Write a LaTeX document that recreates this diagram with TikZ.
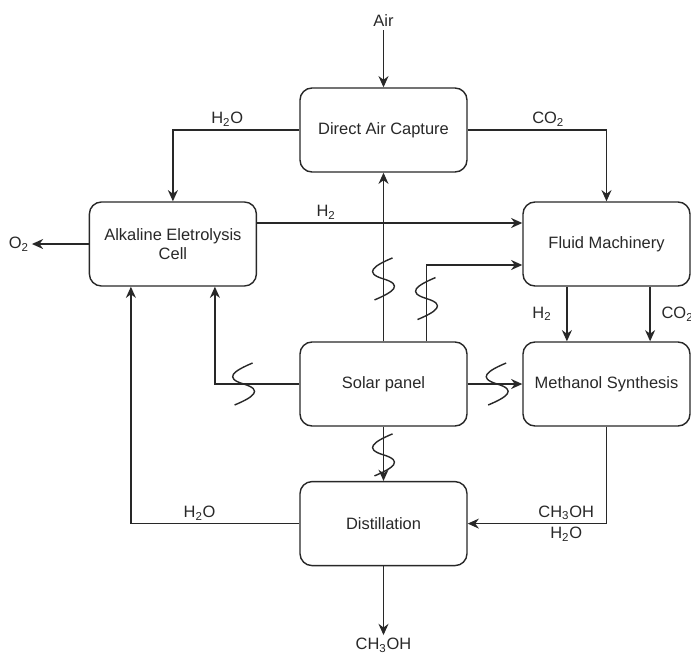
\documentclass[tikz,border=0pt]{standalone}
\usepackage{fontspec}
\setmainfont{Liberation Sans}
\usepackage{tikz}
\usetikzlibrary{arrows.meta, calc, positioning}
\definecolor{darkline}{RGB}{40,40,40}
\tikzstyle{block} = [rectangle, draw=darkline, line width=1pt, rounded corners=3mm,
    fill=white, text=darkline, minimum width=4.175cm, minimum height=2.1cm, align=center]
\tikzstyle{line} = [draw=darkline, line width=1pt, -{Stealth[length=2.8mm, width=2.5mm]}]
\tikzstyle{chem} = [text=darkline, inner sep=2pt]

\begin{document}
\begin{tikzpicture}[node distance = 1.5cm, font=\fontsize{11.7}{13.7}\selectfont,
    squiggle/.pic={\draw[-, darkline, line width=1pt] (0.225,0.525) .. controls (-0.25,0.325) and (-0.5,0.15) .. (0,0) .. controls (0.5,-0.15) and (0.25,-0.325) .. (-0.225,-0.525);}
    ]
    \path[use as bounding box, fill=white] (-9.5875,-6.875) rectangle (7.6875,9.6);

    \node[block] (solar) {Solar panel};
    \node[block, above of=solar, node distance=6.35cm] (dac) {Direct Air Capture};
    \node[block, below of=solar, node distance=3.49cm] (distill) {Distillation};
    \node[block, right of=solar, node distance=5.575cm] (methanol) {Methanol Synthesis};
    \node[block, above of=methanol, node distance=3.5cm] (fluid) {Fluid Machinery};
    \node[block, left of=fluid, node distance=10.84cm] (alkaline) {Alkaline Eletrolysis\\Cell};

    \node[chem, above of=dac, node distance=2.725cm] (air) {Air};
    \node[chem, left of=alkaline, node distance=3.85cm] (o2) {O\textsubscript{2}};
    \node[chem, below of=distill, node distance=3.04cm] (product) {CH\textsubscript{3}OH};

    % streams
    \draw[line] (air) -- (dac);
    \draw[line] (dac.west) -| node[chem, above, pos=0.285] {H\textsubscript{2}O} (alkaline.north);
    \draw[line] (dac.east) -| node[chem, above, pos=0.29] {CO\textsubscript{2}} (fluid.north);
    \draw[line] ([yshift=5.25mm]alkaline.east) -- node[chem, above, pos=0.26] {H\textsubscript{2}} ([yshift=5.25mm]fluid.west);
    \draw[line] (alkaline.west) -- (o2);
    \draw[line] ([xshift=-9.9mm]fluid.south) -- node[chem, left=3mm] {H\textsubscript{2}} ([xshift=-9.9mm]methanol.north);
    \draw[line] ([xshift=10.9mm]fluid.south) -- node[chem, right=2mm] {CO\textsubscript{2}} ([xshift=10.9mm]methanol.north);
    \draw[line] (methanol.south) |- node[chem, above, pos=0.645] {CH\textsubscript{3}OH}
        node[chem, below, pos=0.645] {H\textsubscript{2}O} (distill.east);
    \draw[line] (distill.west) -| node[chem, above, pos=0.296] {H\textsubscript{2}O} ([xshift=-10.5mm]alkaline.south);
    \draw[line] (distill) -- (product);

    % power
    \draw[line] (solar) -- pic[pos=0.37] {squiggle} (dac);
    \draw[line] ([xshift=10.75mm]solar.north) |- pic[pos=0.28] {squiggle} ([yshift=-5.25mm]fluid.west);
    \draw[line] (solar.west) -| pic[pos=0.33] {squiggle} ([xshift=10.5mm]alkaline.south);
    \draw[line] (solar) -- pic[pos=0.54] {squiggle} (methanol);
    \draw[line] (solar) -- pic[pos=0.52] {squiggle} (distill);
\end{tikzpicture}
\end{document}
